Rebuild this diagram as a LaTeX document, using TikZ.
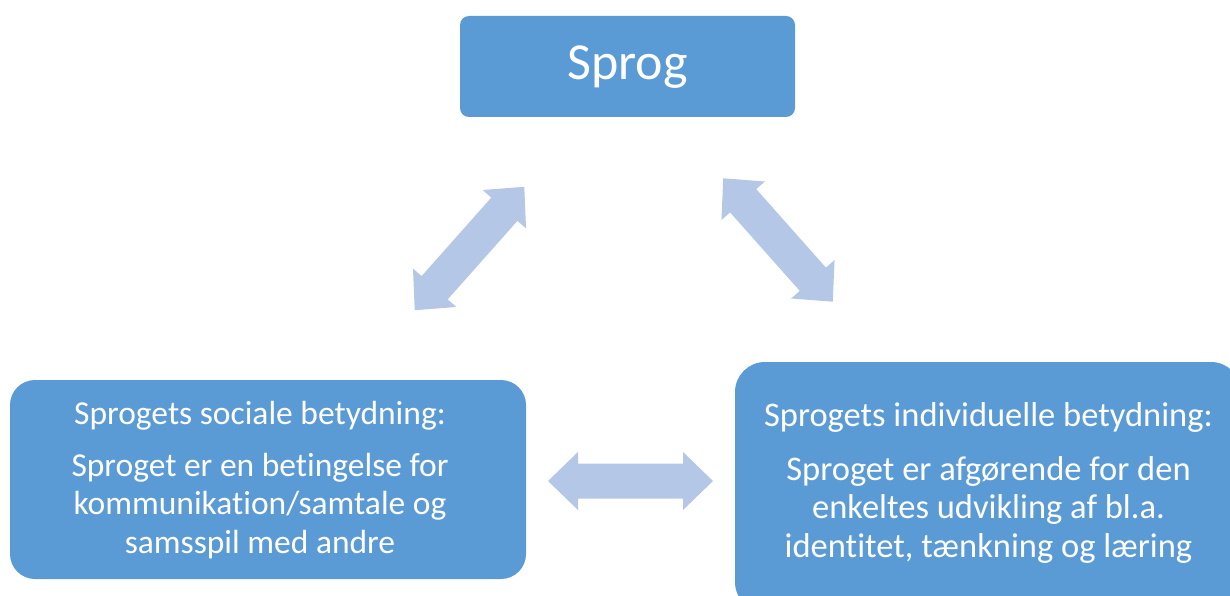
\documentclass[tikz,border=0pt]{standalone}
\usepackage{fontspec}
\setmainfont{Carlito}[Ligatures=NoCommon]
\definecolor{boxblue}{HTML}{5B9BD5}
\definecolor{arrowblue}{HTML}{B4C7E7}
\tikzset{
  card/.style={draw=none, fill=boxblue, inner sep=0pt},
  % anchored on the baseline of the last line
  cardtext/.style={text=white, align=center, inner sep=0pt, anchor=base},
  % block double arrow: 165 long, 58 wide head, 35 wide shaft
  dblarrow/.pic={
    \fill[arrowblue] (-82.5,0) -- (-52.5,-29) -- (-52.5,-17.5) -- (52.5,-17.5)
      -- (52.5,-29) -- (82.5,0) -- (52.5,29) -- (52.5,17.5) -- (-52.5,17.5)
      -- (-52.5,29) -- cycle;
  }
}
\begin{document}
\begin{tikzpicture}[x=1pt,y=-1pt]
  \useasboundingbox (0,0) rectangle (1230,596);
  \clip (0,0) rectangle (1230,596);

  % boxes
  \node[card, rounded corners=9pt, minimum width=335pt, minimum height=101pt]
    (sprog) at (627.5,66.5) {};
  \node[card, rounded corners=25pt, minimum width=516pt, minimum height=199pt]
    (social) at (268,479.5) {};
  \node[card, rounded corners=30pt, minimum width=506pt, minimum height=250pt]
    (indiv) at (988,487) {};

  % texts
  \node[text=white, inner sep=0pt, anchor=base, font=\fontsize{52}{60}\selectfont]
    (sprogtxt) at (627.5,80) {Sprog};
  \node[cardtext, font=\fontsize{33.5}{38.5}\selectfont] (socialtxt) at (260,553)
    {Sprogets sociale betydning:\\[13pt]
     Sproget er en betingelse for\\
     kommunikation/samtale og\\
     samsspil med andre};
  \node[cardtext, font=\fontsize{34.5}{38.5}\selectfont] (indivtxt) at (988.5,557)
    {Sprogets individuelle betydning:\\[15pt]
     Sproget er afgørende for den\\
     enkeltes udvikling af bl.a.\\
     identitet, tænkning og læring};

  % arrows between the boxes
  \pic[rotate=48.4] at (469.5,248.5) {dblarrow};
  \pic[rotate=-48.4] at (778,240) {dblarrow};
  \pic at (630.5,481) {dblarrow};
\end{tikzpicture}
\end{document}
